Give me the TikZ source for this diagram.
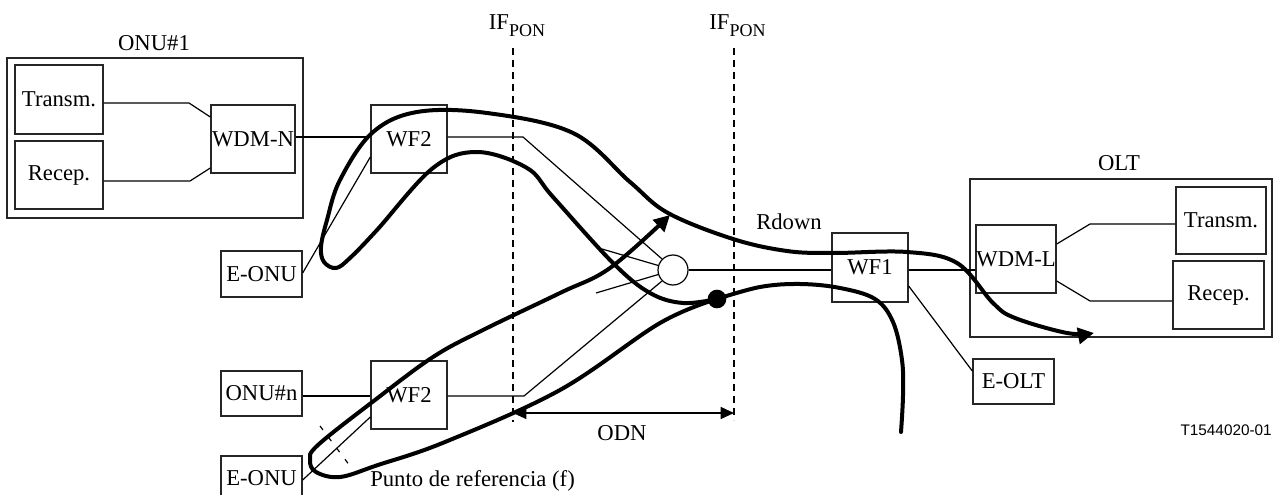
\documentclass[tikz,border=0pt]{standalone}
\usepackage{fontspec}
\setmainfont{Liberation Serif}
\newfontfamily\arialf{Liberation Sans}
\usetikzlibrary{arrows.meta,calc}
\newcommand{\ifpon}{IF\raisebox{-5pt}{\fontsize{13.5}{16}\selectfont PON}}
\tikzset{
  bx/.style 2 args={draw=black!85,line width=1pt,inner sep=0pt,minimum width=#1*0.75pt,minimum height=#2*0.75pt,font=\fontsize{17}{20}\selectfont},
  lbl/.style={inner sep=0pt,font=\fontsize{17}{20}\selectfont},
  thin line/.style={draw=black,line width=0.9pt},
  bold line/.style={draw=black,line width=3pt,line cap=round,line join=round},
  ifline/.style={draw=black,line width=0.9pt,dash pattern=on 5pt off 4pt},
  big tip/.style={-{Triangle[length=12pt,width=12pt]}}
}
\begin{document}
\begin{tikzpicture}[x=0.75pt,y=-0.75pt]
\clip (0,0) rectangle (1280,495);
% containers
\node[bx={296}{160}] (onu1) at (155,138) {};
\node[bx={302}{158}] (olt) at (1121,258) {};
% boxes
\node[bx={88}{69}] (tx1) at (59,99.5) {Transm.};
\node[bx={88}{68}] (rx1) at (59,175) {Recep.};
\node[bx={84}{68}] (wdmn) at (253,139) {WDM-N};
\node[bx={76}{68}] (wf2a) at (409,139) {WF2};
\node[bx={81}{46}] (eonua) at (261.5,274) {E-ONU};
\node[bx={81}{45}] (onun) at (261.5,393.5) {ONU\#n};
\node[bx={76}{68}] (wf2b) at (409,395) {WF2};
\node[bx={81}{45}] (eonub) at (261.5,478.5) {E-ONU};
\node[bx={76}{69}] (wf1) at (870,267.5) {WF1};
\node[bx={80}{68}] (wdml) at (1016,259) {WDM-L};
\node[bx={90}{67}] (tx2) at (1221,220.5) {Transm.};
\node[bx={91}{68}] (rx2) at (1218.5,295) {Recep.};
\node[bx={81}{45}] (eolt) at (1013.5,381.5) {E-OLT};
\node[draw=black,line width=0.9pt,circle,minimum size=22.5pt,inner sep=0pt] (split) at (673,270) {};
\node[circle,fill=black,minimum size=14pt,inner sep=0pt] (dot) at (717,299) {};
% labels
\node[lbl] (lonu) at (154,43) {ONU\#1};
\node[lbl] (lolt) at (1119,163) {OLT};
\node[lbl,anchor=base] (ifa) at (517,30) {\ifpon};
\node[lbl,anchor=base] (ifb) at (737.5,30) {\ifpon};
\node[lbl] (rdown) at (789,222) {Rdown};
\node[lbl] (lodn) at (622,433) {ODN};
\node[lbl,anchor=west] (punto) at (370,481) {Punto de referencia (f)};
\node[inner sep=0pt,anchor=east,font=\arialf\fontsize{11.5}{14}\selectfont] (code) at (1272,430) {T1544020-01};
% bends and free ends
\coordinate (b1) at (189,103);
\coordinate (b2) at (190,181);
\coordinate (b3) at (523,137);
\coordinate (b4) at (524,396);
\coordinate (b5) at (1090,224);
\coordinate (b6) at (1090,301);
\coordinate (f1) at (602,249);
\coordinate (f2) at (596,293);
\coordinate (ia1) at (513,48);
\coordinate (ia2) at (513,422);
\coordinate (ib1) at (734,48);
\coordinate (ib2) at (734,420);
\coordinate (oa) at (513,413);
\coordinate (ob) at (734,413);
\coordinate (ra) at (320,426);
\coordinate (rb) at (350,466);
% thin connectors
\draw[thin line] ($(tx1.east)+(0,3.5)$) -- (b1) -- ($(wdmn.west)+(0,-22)$);
\draw[thin line] ($(rx1.east)+(0,6)$) -- (b2) -- ($(wdmn.west)+(0,29)$);
\draw[thin line] ($(wdmn.east)+(0,-2)$) -- ($(wf2a.west)+(0,-2)$);
\draw[thin line] ($(eonua.east)+(0,-1)$) -- ($(wf2a.west)+(0,18)$);
\draw[thin line] ($(wf2a.east)+(0,-2)$) -- (b3) -- (split.north west);
\draw[thin line] ($(onun.east)+(0,2.5)$) -- ($(wf2b.west)+(0,1)$);
\draw[thin line] ($(eonub.east)+(0,1.5)$) -- ($(wf2b.west)+(0,22)$);
\draw[thin line] ($(wf2b.east)+(0,1)$) -- (b4) -- (split.south west);
\draw[thin line] (split.163) -- (f1);
\draw[thin line] (split.197) -- (f2);
\draw[thin line] (split.east) -- ($(wf1.west)+(0,2.5)$);
\draw[thin line] ($(wf1.east)+(0,2.5)$) -- ($(wdml.west)+(0,11)$);
\draw[thin line] ($(wf1.east)+(0,18.5)$) -- ($(eolt.west)+(0,-10.5)$);
\draw[thin line] ($(wdml.east)+(0,-15)$) -- (b5) -- (tx2.west |- b5);
\draw[thin line] ($(wdml.east)+(0,22)$) -- (b6) -- (rx2.west |- b6);
\draw[ifline] (ia1) -- (ia2);
\draw[ifline] (ib1) -- (ib2);
\draw[thin line,{Triangle[length=10pt,width=9pt]}-{Triangle[length=10pt,width=9pt]}] (oa) -- (ob);
\draw[draw=black,line width=0.9pt,dash pattern=on 3.7pt off 6.7pt] (ra) -- (rb);
% bold signal paths
\draw[bold line,big tip] plot[smooth,tension=0.6] coordinates {(dot) (660,323) (560,390) (445,442) (378,465) (340,477) (316,472) (310,460) (318,445) (375,400) (433,357) (483,330) (560,293) (610,268) (670,215)};
\draw[bold line,big tip] plot[smooth,tension=0.6] coordinates {(dot) (683,303) (650,293) (613,263) (553,197) (527,168) (477,152) (433,168) (377,230) (350,258) (336,268) (324,262) (321,247) (327,220) (340,180) (372,133) (417,112) (487,113) (573,133) (630,182) (668,213) (733,239) (787,251) (833,253) (907,252) (957,263) (993,303) (1015,318) (1067,333) (1094,333)};
\draw[bold line] plot[smooth,tension=0.6] coordinates {(dot) (760,287) (800,284) (840,288) (875,299) (893,322) (902,360) (903,395) (901,432)};
\end{tikzpicture}
\end{document}
